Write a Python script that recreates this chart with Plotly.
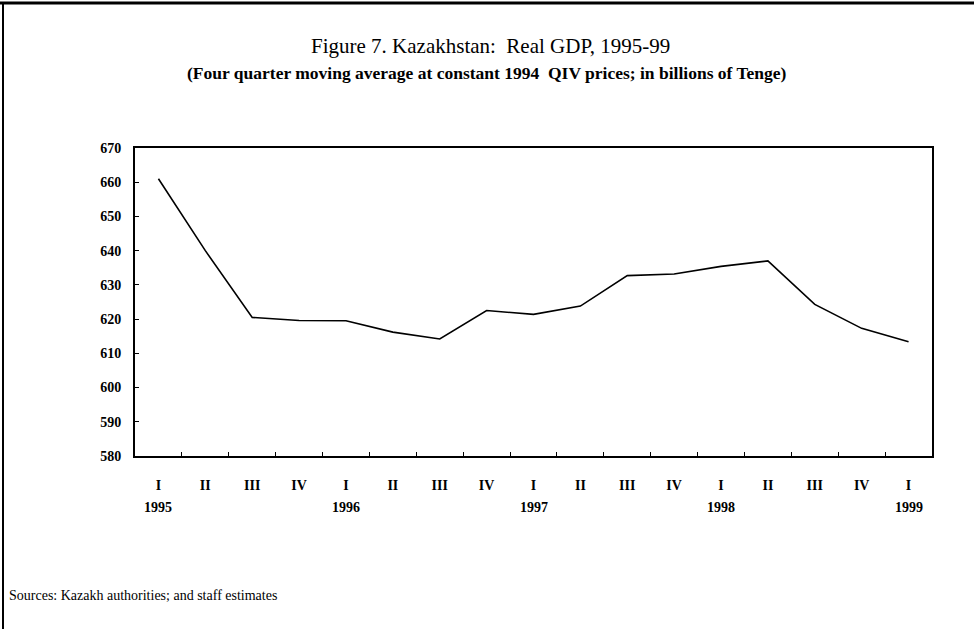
import plotly.graph_objects as go

quarters = ["I", "II", "III", "IV", "I", "II", "III", "IV", "I", "II", "III", "IV",
            "I", "II", "III", "IV", "I"]
years = ["1995", "", "", "", "1996", "", "", "", "1997", "", "", "", "1998", "", "", "", "1999"]
gdp = [661.0, 640.0, 620.5, 619.6, 619.5, 616.2, 614.2, 622.5, 621.4, 623.8,
       632.7, 633.2, 635.4, 637.0, 624.3, 617.3, 613.4]

y_ticks = [580, 590, 600, 610, 620, 630, 640, 650, 660, 670]

idx = list(range(len(gdp)))
FONT = "Liberation Serif"

fig = go.Figure()
fig.add_trace(go.Scatter(x=idx, y=gdp, mode="lines",
                         line=dict(color="black", width=1.6), showlegend=False))

L, R, T, B = 135, 932, 148, 456
W, H = 974, 629


def px(xp):
    return (xp - L) / (R - L)


def py(yp):
    return (B - yp) / (B - T)


annotations = []
annotations.append(dict(text="Figure 7. Kazakhstan:  Real GDP, 1995-99", x=px(490), y=py(46),
                        xref="paper", yref="paper", showarrow=False, xanchor="center", yanchor="middle",
                        font=dict(family=FONT, size=21, color="black")))
annotations.append(dict(text="<b>(Four quarter moving average at constant 1994  QIV prices; in billions of Tenge)</b>",
                        x=px(487), y=py(73), xref="paper", yref="paper", showarrow=False,
                        xanchor="center", yanchor="middle",
                        font=dict(family=FONT, size=17.5, color="black")))
for i, yr in enumerate(years):
    if yr:
        annotations.append(dict(text="<b>" + yr + "</b>", x=i, y=py(507), xref="x", yref="paper",
                                showarrow=False, xanchor="center", yanchor="middle",
                                font=dict(family=FONT, size=14, color="black")))
annotations.append(dict(text="Sources: Kazakh authorities; and staff estimates", x=px(7), y=py(595),
                        xref="paper", yref="paper", showarrow=False, xanchor="left", yanchor="middle",
                        font=dict(family=FONT, size=14, color="black")))

shapes = [
    dict(type="line", xref="paper", yref="paper", x0=px(0), x1=px(W), y0=py(3), y1=py(3),
         line=dict(color="black", width=3)),
    dict(type="line", xref="paper", yref="paper", x0=px(3), x1=px(3), y0=py(3), y1=py(H),
         line=dict(color="black", width=2)),
]

fig.update_layout(
    width=W, height=H,
    margin=dict(l=L, r=W - R, t=T, b=H - B),
    paper_bgcolor="white", plot_bgcolor="white",
    font=dict(family=FONT, color="black", size=14),
    annotations=annotations,
    shapes=shapes,
    xaxis=dict(range=[-0.5, 16.5], tickmode="array", tickvals=idx,
               ticktext=["<b>" + q + "</b>" for q in quarters],
               ticks="", showgrid=False, zeroline=False,
               showline=True, linecolor="black", linewidth=2, mirror=True,
               tickfont=dict(family=FONT, size=14, color="black"), ticklabelstandoff=15,
               minor=dict(tickmode="array", tickvals=[i + 0.5 for i in idx[:-1]],
                          ticks="inside", ticklen=4, tickcolor="black", tickwidth=1, showgrid=False)),
    yaxis=dict(range=[580, 670], tickmode="array", tickvals=y_ticks,
               ticktext=["<b>%d</b>" % v for v in y_ticks],
               ticks="inside", ticklen=4, tickcolor="black", showgrid=False, zeroline=False,
               showline=True, linecolor="black", linewidth=2, mirror=True,
               tickfont=dict(family=FONT, size=14, color="black"), ticklabelstandoff=9),
)

fig.write_html("out.html", config={"displayModeBar": False},
               post_script="document.body.style.margin='0';document.body.style.overflow='hidden';")
